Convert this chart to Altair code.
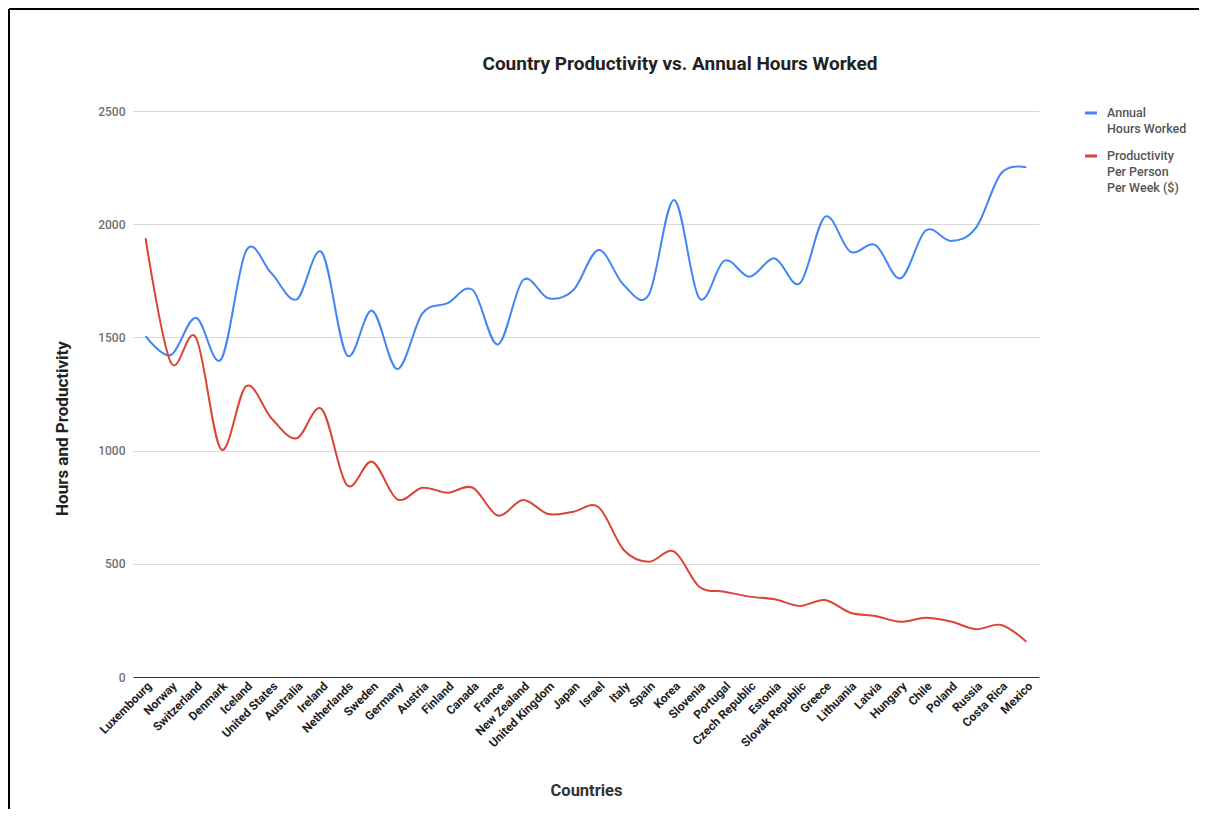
import altair as alt
import pandas as pd

countries = ["Luxembourg", "Norway", "Switzerland", "Denmark", "Iceland", "United States",
             "Australia", "Ireland", "Netherlands", "Sweden", "Germany", "Austria", "Finland",
             "Canada", "France", "New Zealand", "United Kingdom", "Japan", "Israel", "Italy",
             "Spain", "Korea", "Slovenia", "Portugal", "Czech Republic", "Estonia",
             "Slovak Republic", "Greece", "Lithuania", "Latvia", "Hungary", "Chile", "Poland",
             "Russia", "Costa Rica", "Mexico"]
hours = [1506, 1422, 1587, 1403, 1884, 1783, 1668, 1876, 1422, 1618, 1360, 1606, 1651, 1709,
         1469, 1753, 1673, 1709, 1886, 1731, 1690, 2107, 1673, 1839, 1768, 1849, 1739, 2033,
         1879, 1908, 1761, 1972, 1926, 1985, 2225, 2251]
productivity = [1938, 1390, 1500, 1006, 1285, 1143, 1054, 1183, 848, 951, 785, 836, 814, 836,
                713, 782, 720, 730, 750, 561, 509, 554, 399, 377, 355, 343, 314, 340, 284, 269,
                244, 262, 245, 211, 230, 156]
series_names = ["Annual Hours Worked", "Productivity Per Person Per Week ($)"]
series_colors = ["#4285F4", "#DB4437"]
legend_lines = [["Annual", "Hours Worked"], ["Productivity", "Per Person", "Per Week ($)"]]
y_ticks = [0, 500, 1000, 1500, 2000, 2500]
title_text = "Country Productivity vs. Annual Hours Worked"

rows = []
for c, h, p in zip(countries, hours, productivity):
    rows.append({"Country": c, "Series": series_names[0], "Value": h})
    rows.append({"Country": c, "Series": series_names[1], "Value": p})
df = pd.DataFrame(rows)

FONT = "Roboto"
W, H = 906, 566

color_scale = alt.Scale(domain=series_names, range=series_colors)

lines = alt.Chart(df).mark_line(interpolate="cardinal", strokeWidth=2).encode(
    x=alt.X("Country:N", sort=countries,
            scale=alt.Scale(type="point", padding=0.5),
            axis=alt.Axis(title="Countries", labelAngle=-45, labelAlign="right",
                          labelBaseline="top", labelPadding=3, labelFontSize=12,
                          labelFontWeight="bold", labelColor="#222222", labelFont=FONT,
                          ticks=False, domainColor="#333333", domainWidth=1, grid=False,
                          titleFont=FONT, titleFontSize=16.5, titleFontWeight="bold",
                          titleColor="#333333", titleY=113, titleBaseline="middle")),
    y=alt.Y("Value:Q", scale=alt.Scale(domain=[0, 2500], nice=False),
            axis=alt.Axis(title="Hours and Productivity", values=y_ticks, format="d",
                          domain=False, ticks=False, labelPadding=8, labelFontSize=12,
                          labelFontWeight=500, labelColor="#707070", labelFont=FONT,
                          gridColor="#d9d9d9",
                          titleFont=FONT, titleFontSize=17, titleFontWeight="bold",
                          titleColor="#222222", titleAngle=-90, titleX=-71, titleY=317,
                          titleAlign="center", titleBaseline="middle")),
    color=alt.Color("Series:N", scale=color_scale, legend=None),
)

one = alt.Data(values=[{}])

title = alt.Chart(one).mark_text(
    text=title_text, font=FONT, fontSize=19, fontWeight="bold", color="#222222",
    align="center", baseline="middle"
).encode(x=alt.value(547), y=alt.value(-47))

legend_df = pd.DataFrame({
    "Series": series_names,
    "label": ["\n".join(l) for l in legend_lines],
})

leg_layers = []
leg_y = [2, 45]
for i, name in enumerate(series_names):
    d = legend_df[legend_df["Series"] == name]
    dash = alt.Chart(d).mark_rule(strokeWidth=3).encode(
        x=alt.value(952), x2=alt.value(964), y=alt.value(leg_y[i]),
        color=alt.Color("Series:N", scale=color_scale, legend=None))
    txt = alt.Chart(d).mark_text(
        font=FONT, fontSize=12.5, fontWeight=500, color="#555555", align="left",
        baseline="top", lineBreak="\n", lineHeight=16
    ).encode(x=alt.value(974), y=alt.value(leg_y[i] - 6), text="label:N")
    leg_layers += [dash, txt]

border_top = alt.Chart(one).mark_rule(color="#000000", strokeWidth=2).encode(
    x=alt.value(-124), x2=alt.value(1075), y=alt.value(-102))
border_left = alt.Chart(one).mark_rule(color="#000000", strokeWidth=2).encode(
    x=alt.value(-124), y=alt.value(-102), y2=alt.value(710))

chart = alt.layer(lines, title, *leg_layers, border_top, border_left).properties(
    width=W, height=H,
    autosize=alt.AutoSizeParams(type="none"),
    padding={"left": 125, "top": 103, "right": 160, "bottom": 132},
    background="#ffffff",
).configure_view(stroke=None)

chart.save("out.html", embed_options={"renderer": "svg", "actions": False})
